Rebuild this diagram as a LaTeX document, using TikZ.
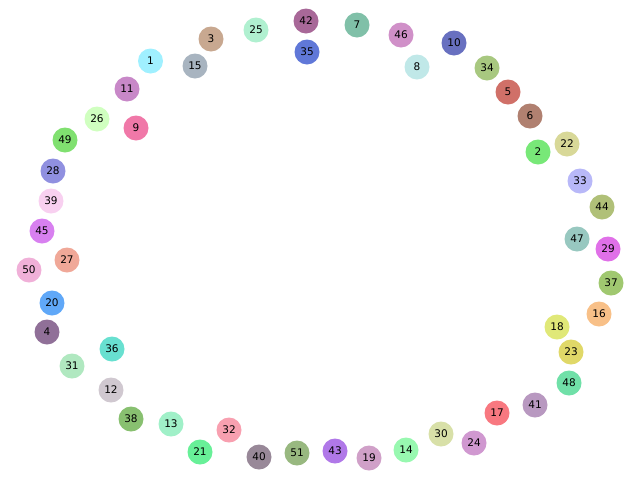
\documentclass[tikz,border=0pt]{standalone}
\usepackage{fontspec}
\setmainfont{DejaVu Sans}
\begin{document}
\begin{tikzpicture}[x=1pt,y=-1pt,
  nd/.style={circle,minimum size=25pt,inner sep=0pt,font=\fontsize{10.5pt}{12pt}\selectfont,text=black}]
\useasboundingbox (0,0) rectangle (640,480);
\foreach \n/\x/\y/\c in {
 1/150.5/61/A0F0FF, 3/211/39/C8A890, 15/195/66/A8B4C0, 11/127/89/C888C8,
 26/97/119/D0FFC0, 9/136/128/F078A8, 49/65/140/80E070, 25/256/30/B0F0D0,
 42/306/21/A86898, 35/307/52/6078D8, 7/357/25/80C0A8, 46/401/35/D090C8,
 8/417/67/C0E8E8, 10/454/43/6870C0, 34/487/68/A8C880, 5/508/92/D07068,
 6/530/116/B08070, 22/567/144/D8D898, 2/538/152/78E878, 33/580/181/B8B8F8,
 44/602/207/B0C078, 47/577/239/98C8C0, 29/608/249/E070E8, 37/611/283/A0C870,
 16/599/314/F8C088, 18/557/327/E0E878, 23/571/352/E0D868, 48/569/383/70E0A8,
 41/535/405/B898C0, 17/497/413/F87880, 24/474/443/D098D0, 30/441/434/D8E0A8,
 14/406/450/98F8B0, 19/369/458/D0A0C8, 43/335/451/B078E8, 51/297/453/98B880,
 40/259/457/988898, 32/229/430/F8A0B0, 21/200/452/68F098, 13/171/424/A0F0C8,
 38/131/419/88C070, 12/111/390/D0C8D0, 31/72/366/B0E8C0, 36/112/349/68E0D0,
 4/47/332/907098, 20/52/303/60A8F8, 50/29/270/F0B0D8, 27/67/260/F0A898,
 45/42/231/D880F0, 39/51/201/F8D0F0, 28/53/171/9090E0}
{
  \definecolor{c\n}{HTML}{\c}
  \node[nd,fill=c\n] (n\n) at (\x,\y) {\n};
}
\end{tikzpicture}
\end{document}
